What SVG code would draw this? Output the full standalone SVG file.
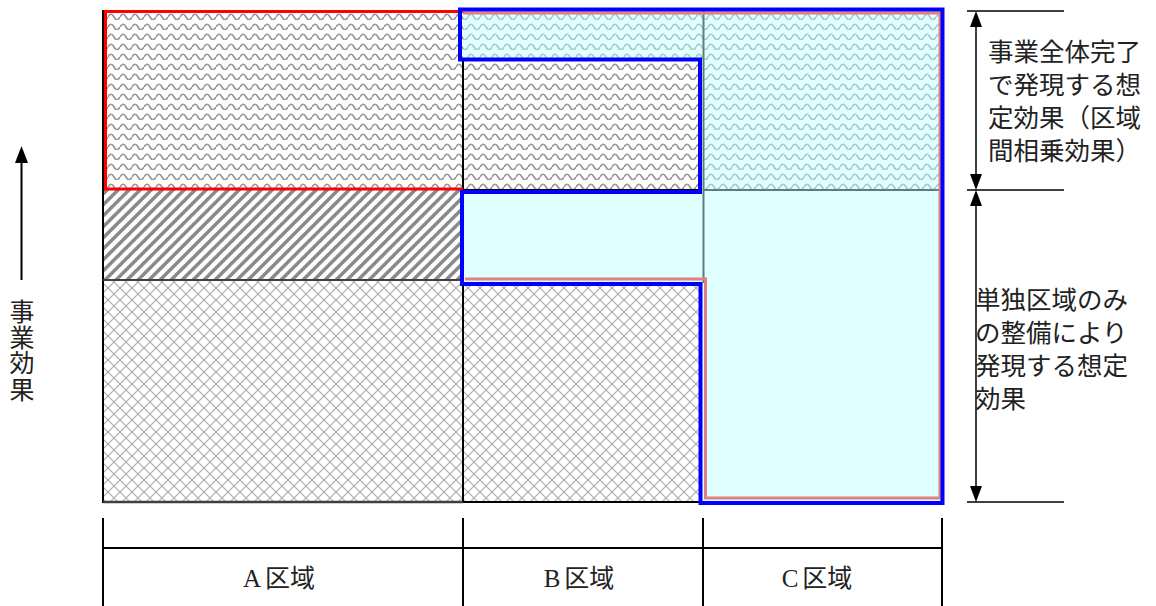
<svg xmlns="http://www.w3.org/2000/svg" width="1156" height="606" viewBox="0 0 1156 606">
<style>
.jp{font-family:"Noto Sans CJK JP","Noto Sans",sans-serif;font-size:25.5px;fill:#222}
.sf{font-family:"Liberation Serif","Noto Sans CJK JP",serif;font-size:25px;fill:#222}
.ln{stroke:#000;stroke-width:2;fill:none}
.dim{stroke:#000;stroke-width:1.5;fill:none}
.head{fill:#000}
.slate{stroke:#5f7f7f;stroke-width:2;fill:none}
</style>
<defs>
<pattern id="wave" width="12" height="10" patternUnits="userSpaceOnUse">
<rect width="12" height="10" fill="#fff"/>
<path d="M0,7 Q3,1.5 6,7 T12,7" stroke="#969696" stroke-width="1.7" fill="none"/>
</pattern>
<pattern id="waveC" width="12" height="10" patternUnits="userSpaceOnUse">
<rect width="12" height="10" fill="#e0ffff"/>
<path d="M0,7 Q3,1.5 6,7 T12,7" stroke="#a8c6c6" stroke-width="1.6" fill="none"/>
</pattern>
<pattern id="stripes" width="11" height="11" patternUnits="userSpaceOnUse">
<rect width="11" height="11" fill="#fff"/>
<path d="M-2,2 L2,-2 M0,11 L11,0 M9,13 L13,9" stroke="#8a8a8a" stroke-width="3.5"/>
</pattern>
<pattern id="cross" width="12" height="12" patternUnits="userSpaceOnUse">
<rect width="12" height="12" fill="#fff"/>
<path d="M0,0 L12,12 M12,0 L0,12" stroke="#adadad" stroke-width="1.2"/>
</pattern>
</defs>

<g id="cells">
<rect id="a-top" x="103" y="10" width="360" height="180" fill="url(#wave)"/>
<rect id="a-mid" x="103" y="190" width="360" height="90" fill="url(#stripes)"/>
<rect id="a-bot" x="103" y="280" width="360" height="222" fill="url(#cross)"/>
<rect id="b-top" x="463" y="10" width="240" height="50" fill="url(#waveC)"/>
<rect id="b-upper" x="463" y="60" width="237" height="130" fill="url(#wave)"/>
<rect id="b-mid" x="463" y="190" width="240" height="93" fill="#e0ffff"/>
<rect id="b-bot" x="463" y="283" width="237" height="219" fill="url(#cross)"/>
<rect id="c-top" x="703" y="10" width="240" height="180" fill="url(#waveC)"/>
<rect id="c-bot" x="703" y="190" width="240" height="312" fill="#e0ffff"/>
</g>

<g id="grid">
<line class="ln" x1="103" y1="10" x2="103" y2="503"/>
<line x1="103" y1="280" x2="463" y2="280" stroke="#404040" stroke-width="2"/>
<line x1="103" y1="502" x2="463" y2="502" stroke="#404040" stroke-width="2.5"/>
<line class="ln" x1="463" y1="60" x2="463" y2="502"/>
<line class="ln" x1="463" y1="502" x2="701" y2="502"/>
<line class="ln" x1="463" y1="190" x2="700" y2="190"/>
<line class="slate" x1="703.5" y1="10" x2="703.5" y2="283"/>
<line class="slate" x1="703" y1="190" x2="942" y2="190"/>
</g>

<g id="outlines">
<path id="red" d="M463,11.5 L105.5,11.5 L105.5,189 L463,189" fill="none" stroke="#ff0000" stroke-width="3"/>
<path id="pink" d="M463,13 L940,13 L940,498 L705.5,498 L705.5,279 L465,279" fill="none" stroke="#e08080" stroke-width="3"/>
<path id="blue" d="M460,9.5 L942.5,9.5 L942.5,503 L700.5,503 L700.5,284 L462,284 L462,192 L700,192 L700,59.5 L460,59.5 Z" fill="none" stroke="#0000ff" stroke-width="4"/>
</g>

<g id="connectors">
<line class="dim" x1="967" y1="11" x2="1064" y2="11"/>
<line class="dim" x1="967" y1="190" x2="1064" y2="190"/>
<line class="dim" x1="967" y1="502" x2="1064" y2="502"/>
<line class="dim" x1="976" y1="20" x2="976" y2="182"/>
<polygon class="head" points="976,11 970,27 982,27"/>
<polygon class="head" points="976,190 970,174 982,174"/>
<line class="dim" x1="976" y1="198" x2="976" y2="494"/>
<polygon class="head" points="976,190 970,206 982,206"/>
<polygon class="head" points="976,502 970,486 982,486"/>
<line x1="21.5" y1="280" x2="21.5" y2="158" stroke="#000" stroke-width="2"/>
<polygon class="head" points="21.5,146 15,163 28,163"/>
</g>

<g id="table">
<line class="ln" x1="103" y1="518" x2="103" y2="606"/>
<line class="ln" x1="463" y1="518" x2="463" y2="606"/>
<line class="ln" x1="703" y1="518" x2="703" y2="606"/>
<line class="ln" x1="942" y1="518" x2="942" y2="606"/>
<line class="ln" x1="103" y1="548" x2="942" y2="548"/>
<text class="sf" x="279" y="587" text-anchor="middle"><tspan>A</tspan><tspan dx="4">区域</tspan></text>
<text class="sf" x="579" y="587" text-anchor="middle"><tspan>B</tspan><tspan dx="4">区域</tspan></text>
<text class="sf" x="817" y="587" text-anchor="middle"><tspan>C</tspan><tspan dx="4">区域</tspan></text>
</g>

<g id="label-synergy">
<text class="jp"><tspan x="988" y="61">事業全体完了</tspan><tspan x="988" y="94">で発現する想</tspan><tspan x="988" y="127">定効果（区域</tspan><tspan x="988" y="160">間相乗効果）</tspan></text>
</g>

<g id="label-single">
<text class="jp"><tspan x="975" y="309">単独区域のみ</tspan><tspan x="975" y="342">の整備により</tspan><tspan x="975" y="375">発現する想定</tspan><tspan x="975" y="408">効果</tspan></text>
</g>

<g id="label-axis">
<text class="sf" text-anchor="middle"><tspan x="22" y="321">事</tspan><tspan x="22" y="347">業</tspan><tspan x="22" y="372">効</tspan><tspan x="22" y="399">果</tspan></text>
</g>
</svg>
